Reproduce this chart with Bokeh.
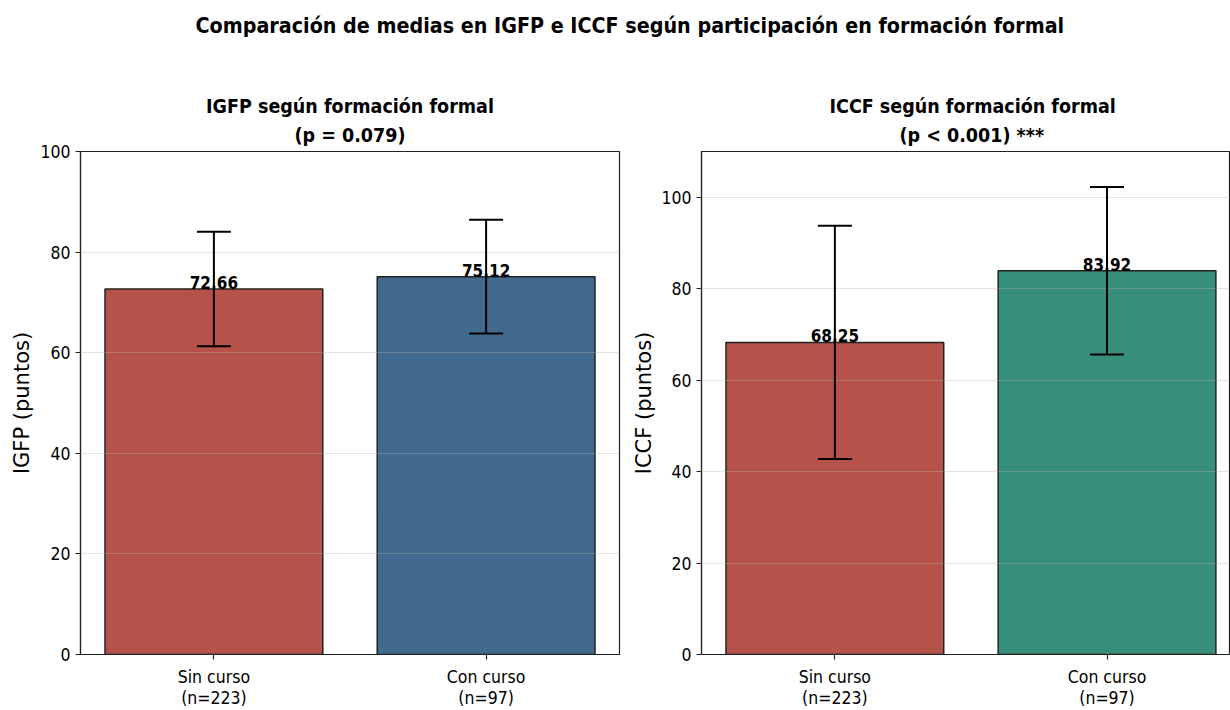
from bokeh.plotting import figure
from bokeh.layouts import column, row
from bokeh.models import ColumnDataSource, Whisker, TeeHead, FixedTicker, Range1d, Title
from bokeh.embed import file_html
from bokeh.resources import INLINE
from bokeh.core.properties import value

# ---- data ----
categories = ["Sin curso\n(n=223)", "Con curso\n(n=97)"]
igfp_means = [72.66, 75.12]
igfp_sd = [11.4, 11.3]
iccf_means = [68.25, 83.92]
iccf_sd = [25.5, 18.3]
igfp_colors = ["#b5534a", "#426a8e"]
iccf_colors = ["#b5534a", "#368e7b"]
y_ticks = [0, 20, 40, 60, 80, 100]

MAIN_TITLE = "Comparación de medias en IGFP e ICCF según participación en formación formal"
FONT = "DejaVu Sans Condensed"
EDGE = "#222222"


def make_panel(title1, title2, ylabel, means, sds, colors, y_end, x_end, width, bl, br,
               t1_off, t2_off, label_standoff):
    xs = list(range(len(means)))
    src = ColumnDataSource(dict(
        x=xs, top=means, color=colors,
        lower=[m - s for m, s in zip(means, sds)],
        upper=[m + s for m, s in zip(means, sds)],
        label=[f"{m:.2f}" for m in means],
    ))
    p = figure(width=width, height=650, output_backend="svg", toolbar_location=None,
               x_range=Range1d(-0.49, x_end), y_range=Range1d(0, y_end),
               min_border_left=bl, min_border_right=br, min_border_top=91,
               min_border_bottom=53, title=None)
    common = dict(text_font=FONT, text_font_size="19.5px", text_font_style="bold",
                  text_color="black")
    if t1_off is None:
        t2 = Title(text=title2, align="center", standoff=9, **common)
        t1 = Title(text=title1, align="center", standoff=0, **common)
    else:
        t2 = Title(text=title2, align="left", offset=t2_off, standoff=9, **common)
        t1 = Title(text=title1, align="left", offset=t1_off, standoff=0, **common)
    p.add_layout(t2, "above")
    p.add_layout(t1, "above")

    p.vbar(x="x", top="top", width=0.8, bottom=0, source=src,
           fill_color="color", line_color=EDGE, line_width=1.5)
    p.text(x="x", y="top", text="label", source=src, text_align="center",
           text_baseline="bottom", text_font=value(FONT), text_font_style="bold",
           text_font_size="17px", text_color="black")
    w = Whisker(source=src, base="x", lower="lower", upper="upper",
                line_color="black", line_width=2, level="overlay",
                upper_head=TeeHead(size=34, line_color="black", line_width=2),
                lower_head=TeeHead(size=34, line_color="black", line_width=2))
    p.add_layout(w)

    p.xaxis.ticker = FixedTicker(ticks=xs)
    p.xaxis.major_label_overrides = {i: c for i, c in enumerate(categories)}
    p.yaxis.ticker = FixedTicker(ticks=y_ticks)
    for ax in (p.xaxis[0], p.yaxis[0]):
        ax.major_label_text_font = FONT
        ax.major_label_text_font_size = "17.5px"
        ax.major_label_text_color = "black"
        ax.axis_line_color = EDGE
        ax.axis_line_width = 1.2
        ax.major_tick_line_color = EDGE
        ax.major_tick_line_width = 1.2
        ax.major_tick_out = 5
        ax.major_tick_in = 0
        ax.minor_tick_line_color = None
    p.yaxis.axis_label = ylabel
    p.yaxis.axis_label_text_font = "DejaVu Sans"
    p.yaxis.axis_label_text_font_style = "normal"
    p.yaxis.axis_label_text_font_size = "21px"
    p.yaxis.axis_label_text_color = "black"
    p.yaxis.axis_label_standoff = label_standoff
    p.xaxis.major_label_standoff = 7
    p.xaxis.major_label_text_line_height = 1.05

    p.xgrid.grid_line_color = None
    p.ygrid.ticker = FixedTicker(ticks=y_ticks)
    p.ygrid.grid_line_color = "#b0b0b0"
    p.ygrid.grid_line_alpha = 0.35
    p.ygrid.grid_line_width = 1.2
    p.ygrid.level = "overlay"

    p.outline_line_color = EDGE
    p.outline_line_width = 1.2
    p.outline_line_alpha = 1.0
    p.background_fill_color = "white"
    p.border_fill_color = "white"
    return p


left = make_panel("IGFP según formación formal", "(p = 0.079)", "IGFP (puntos)",
                  igfp_means, igfp_sd, igfp_colors, 100, 1.49, 629, 80, 10,
                  None, None, 3)
right = make_panel("ICCF según formación formal", "(p < 0.001) ***", "ICCF (puntos)",
                   iccf_means, iccf_sd, iccf_colors, 110, 1.45, 601, 72, 1,
                   128, 198, 2)

top = figure(width=1230, height=60, output_backend="svg", toolbar_location=None,
             min_border_top=42, min_border_bottom=0, min_border_left=0, min_border_right=0)
top.title.text = MAIN_TITLE
top.title.align = "left"
top.title.offset = 195
top.title.text_font = FONT
top.title.text_font_size = "21.3px"
top.title.text_font_style = "bold"
top.title.text_color = "black"
top.axis.visible = False
top.grid.visible = False
top.outline_line_color = None
top.scatter(x=[0], y=[0], alpha=0)

layout = column(top, row(left, right))
open("out.html", "w").write(file_html(layout, INLINE))
